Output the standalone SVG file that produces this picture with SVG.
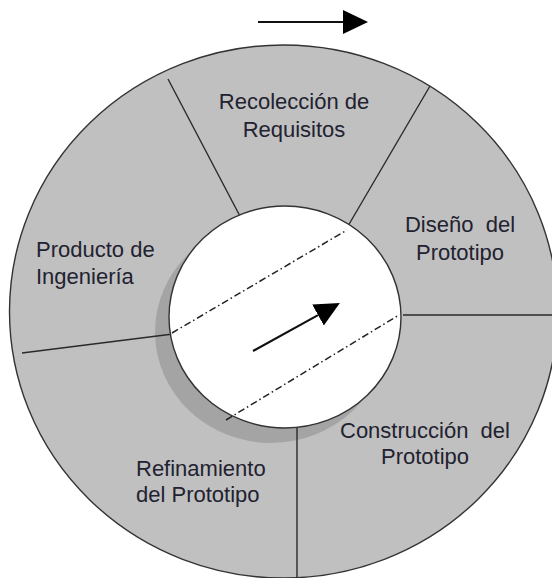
<svg xmlns="http://www.w3.org/2000/svg" width="552" height="578" viewBox="0 0 552 578">
  <defs>
    <style>
      .lbl { font-family: "Liberation Sans", Arial, sans-serif; font-size: 22px; fill: #222230; }
      .div { stroke: #2a2a2a; stroke-width: 1.4; fill: none; }
      .dd { stroke: #222; stroke-width: 1.5; fill: none; stroke-dasharray: 7 3 1.5 3; }
      .arr { stroke: #111; stroke-width: 2.2; fill: none; }
    </style>
    <marker id="head" markerUnits="userSpaceOnUse" markerWidth="26" markerHeight="26" refX="0" refY="12" orient="auto">
      <path d="M0,0 L25,12 L0,24 z" fill="#000"/>
    </marker>
  </defs>
  <rect width="552" height="578" fill="#ffffff"/>

  <g id="ring">
    <ellipse cx="283.5" cy="311.5" rx="274" ry="266.5" fill="#c0c0c0" stroke="#333" stroke-width="1.4"/>
    <ellipse cx="271" cy="332" rx="116" ry="111" fill="#a4a4a4"/>
  </g>

  <g id="connectors">
    <line class="div" x1="168" y1="79" x2="242" y2="220"/>
    <line class="div" x1="430" y1="86" x2="348" y2="226"/>
    <line class="div" x1="403" y1="315" x2="552" y2="315"/>
    <line class="div" x1="297" y1="425" x2="297" y2="578"/>
    <line class="div" x1="22" y1="353" x2="173" y2="334"/>
  </g>

  <g id="hub">
    <ellipse cx="285" cy="317" rx="116" ry="111" fill="#ffffff" stroke="#333" stroke-width="1.4"/>
    <line class="dd" x1="172" y1="333" x2="347" y2="230"/>
    <line class="dd" x1="226" y1="420" x2="399" y2="315"/>
    <line class="arr" x1="253" y1="351" x2="318" y2="315.1" marker-end="url(#head)"/>
  </g>

  <g id="direction">
    <line class="arr" x1="258" y1="22" x2="343" y2="22" marker-end="url(#head)"/>
  </g>

  <g id="recoleccion">
    <text class="lbl" x="294" y="109" text-anchor="middle">Recolección de</text>
    <text class="lbl" x="294" y="137" text-anchor="middle">Requisitos</text>
  </g>
  <g id="diseno">
    <text class="lbl" x="460" y="232" text-anchor="middle">Diseño&#160; del</text>
    <text class="lbl" x="460" y="260" text-anchor="middle">Prototipo</text>
  </g>
  <g id="construccion">
    <text class="lbl" x="425" y="438" text-anchor="middle">Construcción&#160; del</text>
    <text class="lbl" x="425" y="464" text-anchor="middle">Prototipo</text>
  </g>
  <g id="refinamiento">
    <text class="lbl" x="136" y="476">Refinamiento</text>
    <text class="lbl" x="136" y="502">del Prototipo</text>
  </g>
  <g id="producto">
    <text class="lbl" x="36" y="257">Producto de</text>
    <text class="lbl" x="36" y="284">Ingeniería</text>
  </g>
</svg>
